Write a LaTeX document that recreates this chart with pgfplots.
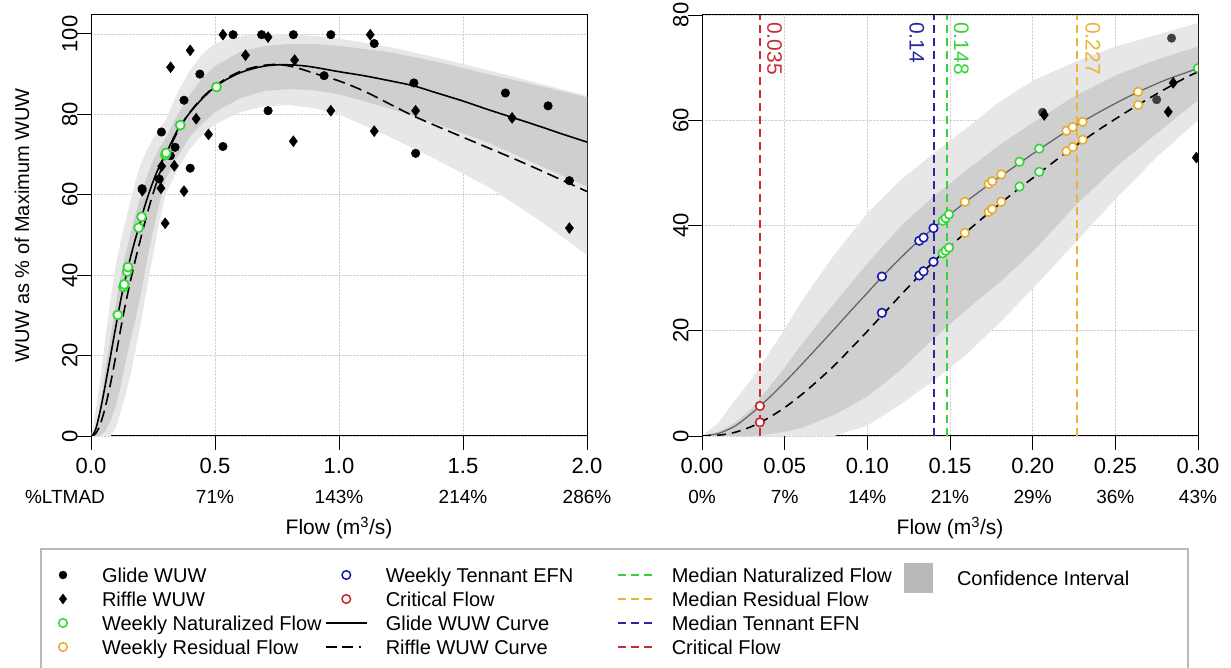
\documentclass[border=0pt]{standalone}
\usepackage{fontspec}
\setmainfont{Liberation Sans}
\usepackage{pgfplots}
\pgfplotsset{compat=1.18}
\usepgfplotslibrary{fillbetween}
\usepackage{pgfplotstable}

\definecolor{cgreen}{RGB}{50,215,50}
\definecolor{corange}{RGB}{232,172,40}
\definecolor{cblue}{RGB}{25,25,175}
\definecolor{cred}{RGB}{200,35,45}
\definecolor{lgreen}{RGB}{55,210,55}
\definecolor{lorange}{RGB}{235,180,55}
\definecolor{lblue}{RGB}{40,40,160}
\definecolor{lred}{RGB}{200,45,55}
\definecolor{bandlight}{RGB}{231,231,231}
\definecolor{banddark}{RGB}{207,207,207}

\tikzset{pct/.style={font=\fontsize{19}{22}\selectfont, yshift=-61pt}}

\pgfplotstableread{
x y
0 0
0.01 0.5
0.02 1.9
0.03 4.3
0.04 7.1
0.05 10.2
0.06 13.5
0.07 16.9
0.08 20.3
0.09 23.8
0.10 27.2
0.11 30.6
0.12 33.8
0.13 36.8
0.14 39.5
0.15 42.1
0.16 44.6
0.175 48.1
0.19 51.4
0.20 53.6
0.22 57.8
0.24 61.5
0.26 64.8
0.28 67.6
0.30 69.9
0.35 76.2
0.40 80.5
0.45 84.0
0.50 86.8
0.55 88.8
0.60 90.3
0.65 91.3
0.70 92.0
0.75 92.3
0.80 92.3
0.85 92.1
0.90 91.7
1.00 90.6
1.10 89.6
1.20 88.4
1.30 87.1
1.40 85.2
1.50 83.3
1.60 81.2
1.70 79.2
1.80 77.2
1.90 75.1
2.00 73.1
}\glidecurve

\pgfplotstableread{
x y
0 0
0.01 0.15
0.02 0.7
0.03 1.8
0.04 3.4
0.05 5.4
0.06 7.8
0.07 10.5
0.08 13.4
0.09 16.6
0.10 19.9
0.11 23.3
0.12 26.7
0.13 30.0
0.14 33.1
0.15 36.0
0.16 38.8
0.175 42.8
0.19 46.6
0.20 49.0
0.22 53.8
0.24 58.2
0.26 62.2
0.28 65.9
0.30 69.2
0.35 75.8
0.40 80.6
0.45 84.2
0.50 87.0
0.55 89.1
0.60 90.6
0.65 91.6
0.70 92.2
0.75 92.4
0.80 92.0
0.85 91.2
0.90 90.2
1.00 88.3
1.10 85.8
1.20 82.7
1.30 79.6
1.40 76.9
1.50 74.3
1.60 71.7
1.70 69.1
1.80 66.4
1.90 63.6
2.00 60.8
}\rifflecurve

\pgfplotstableread{
x uo ui li lo
0 0 0 0 0
0.01 2.5 0.8 0 0
0.02 6.8 2.5 0 0
0.03 10.8 5.2 0 0
0.04 15.5 9 0.3 0
0.05 20.3 13 0.8 0
0.06 25.5 17.3 1.5 0
0.08 34.4 25.2 4 0
0.10 42.3 32.8 7.5 2
0.12 48.6 39.8 12.5 6
0.14 53.7 45.5 18.5 10.5
0.16 58.5 50.5 24 15.5
0.18 63.5 55.3 29.2 21.5
0.20 67.5 59.5 35 28
0.225 71 64.5 43.5 36.5
0.25 74 68.5 51 45
0.275 76.2 71.5 57.5 53
0.30 78.5 74 63.8 60
0.35 85.5 80 69.5 66.5
0.40 91 85 74.5 71.5
0.45 95 89 77.8 75
0.50 97.6 92 80.5 77.5
0.60 99.5 95.5 84 80.5
0.70 100 97 85.8 82
0.80 99.9 97.5 86.3 82.3
0.90 99.5 97.5 86 81.5
1.00 98.8 97 85 80
1.20 96.8 95.5 81.5 74.5
1.40 94 93 77.5 68.5
1.60 91 90 73 62
1.80 87.8 87.2 67.5 54
2.00 84.6 84.2 62 45
}\bands

\pgfplotstableread{
x y
0.206 61.5
0.284 75.6
0.275 63.9
0.320 69.7
0.339 71.8
0.375 83.5
0.400 66.6
0.439 90.0
0.532 72.0
0.573 99.8
0.688 99.8
0.714 80.9
0.816 99.8
0.940 89.6
0.967 99.8
1.142 97.6
1.302 87.8
1.309 70.3
1.671 85.3
1.843 82.1
1.929 63.5
}\glidepts

\pgfplotstableread{
x y
0.207 61.0
0.321 91.7
0.400 95.9
0.299 52.9
0.285 67.1
0.282 61.6
0.336 67.2
0.375 60.9
0.424 78.9
0.474 75.0
0.532 99.8
0.623 94.7
0.714 99.2
0.816 73.3
0.821 93.5
0.967 80.9
1.126 99.8
1.142 75.8
1.309 80.9
1.698 79.1
1.929 51.7
}\rifflepts

\pgfplotstableread{
x y
0.108 30.1
0.131 37.1
0.134 37.7
0.146 40.9
0.149 42.0
0.192 51.8
0.204 54.5
0.300 69.9
0.303 70.4
0.360 77.3
0.506 86.8
}\natleft

\pgfplotstableread{
x y
0.1456 40.9
0.1473 41.4
0.1494 42.1
0.192 52.1
0.204 54.6
0.300 69.9
0.1456 34.7
0.1473 35.2
0.1494 35.8
0.192 47.4
0.204 50.2
}\natright

\pgfplotstableread{
x y
0.159 44.5
0.1734 47.9
0.1755 48.4
0.181 49.7
0.2204 58.0
0.2242 58.7
0.2302 59.7
0.2638 65.4
0.159 38.6
0.1734 42.6
0.1755 43.1
0.181 44.5
0.2204 54.1
0.2242 54.9
0.2302 56.3
0.2638 62.9
}\resright

\pgfplotstableread{
x y
0.1088 30.3
0.1314 37.1
0.134 37.7
0.140 39.5
0.1088 23.4
0.1314 30.5
0.134 31.3
0.140 33.1
}\tennright

\pgfplotstableread{
x y
0.035 5.7
0.035 2.6
}\critright

\pgfplotsset{
  panel/.style={
    scale only axis, width=496pt, height=421pt, anchor=south west,
    tick align=outside, tick pos=left, major tick length=14pt,
    tick style={black, line width=0.9pt},
    axis line style={black, line width=1pt},
    grid=major, grid style={densely dotted, gray!35, line width=0.7pt},
    /pgf/number format/assume math mode=true,
    ticklabel style={font=\fontsize{22}{26}\selectfont},
    xticklabel style={yshift=-5pt},
    yticklabel style={xshift=4pt, rotate=90, anchor=south},
    clip mode=individual, clip marker paths=true,
    xlabel style={font=\fontsize{21}{25}\selectfont, at={(axis description cs:0.5,-0.2185)}, anchor=center},
  },
  mlegend/.style={legend image code/.code={\path[draw=none, fill=none] (0pt,-1pt) rectangle (#1+19pt,1pt);
      \draw[##1, only marks, mark repeat=1] plot coordinates {(0.5*#1,0pt)};}},
  llegend/.style={legend image code/.code={\path[draw=none, fill=none] (0pt,-1pt) rectangle (#1+18pt,1pt);
      \draw[##1] (0pt,0pt) -- (#1,0pt);}},
  legcol/.style={hide axis, scale only axis, at={(0pt,0pt)}, anchor=south west,
    width=1231pt, height=668pt, xmin=0, xmax=1231, ymin=0, ymax=668,
    legend cell align=left,
    legend style={draw=none, fill=none, inner sep=0pt, outer sep=0pt,
      anchor=north west, font=\fontsize{20}{24}\selectfont, row sep=0pt,
      nodes={inner sep=0pt, text height=19.2pt, text depth=4.8pt, anchor=west}}},
}

\begin{document}
\begin{tikzpicture}

% ---------------- left panel ----------------
\begin{axis}[panel, at={(91pt,232pt)},
  xmin=0, xmax=2, ymin=0, ymax=104.7,
  xtick={0,0.5,1,1.5,2}, xticklabels={0.0,0.5,1.0,1.5,2.0},
  ytick={0,20,40,60,80,100},
  xlabel={Flow (m\textsuperscript{3}/s)},
  ylabel={WUW as \% of Maximum WUW},
  ylabel style={font=\fontsize{20}{24}\selectfont, at={(axis description cs:-0.139,0.5)}, anchor=center},
]
\addplot[name path=uo, draw=none, forget plot] table[x=x, y=uo] {\bands};
\addplot[name path=lo, draw=none, forget plot] table[x=x, y=lo] {\bands};
\addplot[name path=ui, draw=none, forget plot] table[x=x, y=ui] {\bands};
\addplot[name path=li, draw=none, forget plot] table[x=x, y=li] {\bands};
\addplot[fill=bandlight, draw=none] fill between[of=uo and lo];
\addplot[fill=banddark, draw=none] fill between[of=ui and li];
\addplot[black, line width=1.6pt, smooth] table[x=x, y=y] {\glidecurve};
\addplot[black, line width=1.6pt, smooth, dash pattern=on 12pt off 6pt] table[x=x, y=y] {\rifflecurve};
\addplot[only marks, mark=*, mark size=4.3pt, black] table[x=x, y=y] {\glidepts};
\addplot[only marks, mark=diamond*, mark size=5.5pt, black] table[x=x, y=y] {\rifflepts};
\addplot[only marks, mark=*, mark size=4.5pt, mark options={draw=cgreen, fill=white, line width=1.8pt}] table[x=x, y=y] {\natleft};
\node[pct, xshift=-26pt] at (axis cs:0,0) {\%LTMAD};
\node[pct] at (axis cs:0.5,0) {71\%};
\node[pct] at (axis cs:1.0,0) {143\%};
\node[pct] at (axis cs:1.5,0) {214\%};
\node[pct] at (axis cs:2.0,0) {286\%};
\end{axis}

% ---------------- right panel ----------------
\begin{axis}[panel, at={(702pt,232pt)},
  xmin=0, xmax=0.30, ymin=0, ymax=80,
  xtick={0,0.05,0.10,0.15,0.20,0.25,0.30},
  xticklabels={0.00,0.05,0.10,0.15,0.20,0.25,0.30},
  ytick={0,20,40,60,80},
  xlabel={Flow (m\textsuperscript{3}/s)},
]
\addplot[name path=uo, draw=none, forget plot] table[x=x, y=uo] {\bands};
\addplot[name path=lo, draw=none, forget plot] table[x=x, y=lo] {\bands};
\addplot[name path=ui, draw=none, forget plot] table[x=x, y=ui] {\bands};
\addplot[name path=li, draw=none, forget plot] table[x=x, y=li] {\bands};
\addplot[fill=bandlight, draw=none] fill between[of=uo and lo];
\addplot[fill=banddark, draw=none] fill between[of=ui and li];
\addplot[lred, line width=1.8pt, dash pattern=on 8pt off 5pt] coordinates {(0.035,0) (0.035,80)};
\addplot[lblue, line width=2pt, dash pattern=on 8pt off 5pt] coordinates {(0.1402,0) (0.1402,80)};
\addplot[lgreen, line width=1.8pt, dash pattern=on 8pt off 5pt] coordinates {(0.148,0) (0.148,80)};
\addplot[lorange, line width=1.8pt, dash pattern=on 8pt off 5pt] coordinates {(0.227,0) (0.227,80)};
\addplot[black!60, line width=1.3pt, smooth] table[x=x, y=y] {\glidecurve};
\addplot[black, line width=1.6pt, smooth, dash pattern=on 9pt off 6pt] table[x=x, y=y] {\rifflecurve};
\addplot[only marks, mark=*, mark size=4.3pt, black!75] table[x=x, y=y] {\glidepts};
\addplot[only marks, mark=diamond*, mark size=5.5pt, black] table[x=x, y=y] {\rifflepts};
\addplot[only marks, mark=*, mark size=4.3pt, mark options={draw=cgreen, fill=white, line width=1.6pt}] table[x=x, y=y] {\natright};
\addplot[only marks, mark=*, mark size=4.3pt, mark options={draw=corange, fill=white, line width=1.6pt}] table[x=x, y=y] {\resright};
\addplot[only marks, mark=*, mark size=4.3pt, mark options={draw=cblue, fill=white, line width=1.6pt}] table[x=x, y=y] {\tennright};
\addplot[only marks, mark=*, mark size=4.3pt, mark options={draw=cred, fill=white, line width=1.6pt}] table[x=x, y=y] {\critright};
\node[text=lred, inner sep=0pt, font=\fontsize{21}{24}\selectfont, xshift=7pt, yshift=-7pt, rotate=-90, anchor=south west] at (axis cs:0.035,80) {0.035};
\node[text=lblue, inner sep=0pt, font=\fontsize{21}{24}\selectfont, xshift=-9pt, yshift=-7pt, rotate=-90, anchor=north west] at (axis cs:0.14,80) {0.14};
\node[text=lgreen, inner sep=0pt, font=\fontsize{21}{24}\selectfont, xshift=7pt, yshift=-7pt, rotate=-90, anchor=south west] at (axis cs:0.148,80) {0.148};
\node[text=lorange, inner sep=0pt, font=\fontsize{21}{24}\selectfont, xshift=8pt, yshift=-7pt, rotate=-90, anchor=south west] at (axis cs:0.227,80) {0.227};
\node[pct] at (axis cs:0,0) {0\%};
\node[pct] at (axis cs:0.05,0) {7\%};
\node[pct] at (axis cs:0.10,0) {14\%};
\node[pct] at (axis cs:0.15,0) {21\%};
\node[pct] at (axis cs:0.20,0) {29\%};
\node[pct] at (axis cs:0.25,0) {36\%};
\node[pct] at (axis cs:0.30,0) {43\%};
\end{axis}

% ---------------- legend ----------------
\draw[gray!55, line width=1.3pt] (41pt,119pt) rectangle (1188pt,-10pt);

\begin{axis}[legcol, legend style={at={(axis cs:43,105)}}]
\addplot[draw=none, forget plot] coordinates {(0,0) (1231,668)};
\addlegendimage{mark=*, mark size=4pt, black, mlegend=40pt}
\addlegendentry{Glide WUW}
\addlegendimage{mark=diamond*, mark size=5pt, black, mlegend=40pt}
\addlegendentry{Riffle WUW}
\addlegendimage{mark=o, mark size=4.3pt, cgreen, line width=1.5pt, mlegend=40pt}
\addlegendentry{Weekly Naturalized Flow}
\addlegendimage{mark=o, mark size=4.3pt, corange, line width=1.5pt, mlegend=40pt}
\addlegendentry{Weekly Residual Flow}
\end{axis}

\begin{axis}[legcol, legend style={at={(axis cs:325,105)}}]
\addplot[draw=none, forget plot] coordinates {(0,0) (1231,668)};
\addlegendimage{mark=o, mark size=4.3pt, cblue, line width=1.5pt, mlegend=41pt}
\addlegendentry{Weekly Tennant EFN}
\addlegendimage{mark=o, mark size=4.3pt, cred, line width=1.5pt, mlegend=41pt}
\addlegendentry{Critical Flow}
\addlegendimage{black, line width=1.6pt, llegend=41pt}
\addlegendentry{Glide WUW Curve}
\addlegendimage{black, line width=1.6pt, dash pattern=on 11pt off 5pt on 11pt off 6pt on 2pt off 20pt, llegend=41pt}
\addlegendentry{Riffle WUW Curve}
\end{axis}

\begin{axis}[legcol, legend style={at={(axis cs:617,105)}}]
\addplot[draw=none, forget plot] coordinates {(0,0) (1231,668)};
\addlegendimage{lgreen, line width=1.6pt, dash pattern=on 8pt off 5pt, llegend=36pt}
\addlegendentry{Median Naturalized Flow}
\addlegendimage{lorange, line width=1.6pt, dash pattern=on 8pt off 5pt, llegend=36pt}
\addlegendentry{Median Residual Flow}
\addlegendimage{lblue, line width=1.6pt, dash pattern=on 8pt off 5pt, llegend=36pt}
\addlegendentry{Median Tennant EFN}
\addlegendimage{lred, line width=1.6pt, dash pattern=on 8pt off 5pt, llegend=36pt}
\addlegendentry{Critical Flow}
\end{axis}

\begin{axis}[legcol, legend style={at={(axis cs:904,105)}}]
\addplot[draw=none, forget plot] coordinates {(0,0) (1231,668)};
\addlegendimage{legend image code/.code={\path[draw=none, fill=none] (0pt,-15pt) rectangle (53pt,15pt); \fill[gray!55, draw=none] (0pt,-15pt) rectangle (29pt,15pt);}}
\addlegendentry{Confidence Interval}
\end{axis}

\pgfresetboundingbox
\path[use as bounding box] (0pt,0pt) rectangle (1231pt,668pt);
\end{tikzpicture}
\end{document}
